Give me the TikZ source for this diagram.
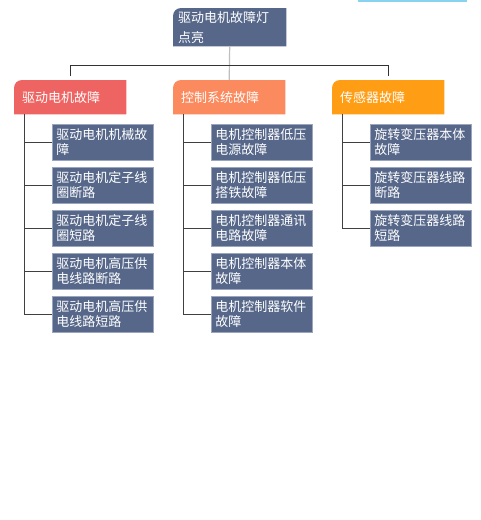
\documentclass[tikz,border=0pt]{standalone}
\usepackage{fontspec}
\newfontfamily\cjk{Noto Sans CJK SC}
\usetikzlibrary{positioning,backgrounds,calc}
\definecolor{slate}{HTML}{56678A}
\definecolor{slateedge}{HTML}{9AA6BE}
\definecolor{drivered}{HTML}{EE6462}
\definecolor{ctrlorange}{HTML}{FB8A5E}
\definecolor{sensorgold}{HTML}{FF9D14}
\definecolor{skyline}{HTML}{87D3F1}

\begin{document}
\begin{tikzpicture}[x=1pt,y=-1pt,
  rootbox/.style={anchor=north west,minimum width=113pt,minimum height=38pt,
    text width=103pt,inner xsep=5pt,inner ysep=0pt,align=left,text=white,
    font=\cjk\fontsize{13}{20}\selectfont},
  catbox/.style={anchor=north west,minimum width=112pt,minimum height=34pt,
    text width=96pt,inner xsep=8pt,inner ysep=0pt,align=left,text=white,
    font=\cjk\fontsize{13}{16}\selectfont},
  leafbox/.style={anchor=north west,draw=slateedge,line width=0.8pt,fill=slate,
    minimum width=101pt,minimum height=36pt,text width=93pt,inner xsep=4pt,
    inner ysep=0pt,align=left,text=white,font=\cjk\fontsize{13}{15}\selectfont},
  branch/.style={draw=black!75,line width=0.9pt},
  bus/.style={draw=black!80,line width=0.9pt},
  stem/.style={draw=black!25,line width=1.2pt}]

\useasboundingbox (0,0) rectangle (480,520);
\draw[skyline,line width=1.6pt] (358,0.8) -- (467,0.8);

% root and the three groups
\node[rootbox] (root) at (173,8) {驱动电机故障灯\\点亮};
\node[catbox] (c1) at (14,80) {驱动电机故障};
\node[catbox] (c2) at (173,80) {控制系统故障};
\node[catbox] (c3) at (332,80) {传感器故障};

\coordinate (hub) at ($(root.south)+(0,19)$);
\draw[stem] (root.south) -- (c2.north);
\draw[bus] ([yshift=4pt]c1.north) |- (hub) -| ([yshift=4pt]c3.north);

% leaves
\foreach \t [count=\i] in {驱动电机机械故\\障,驱动电机定子线\\圈断路,驱动电机定子线\\圈短路,
    驱动电机高压供\\电线路断路,驱动电机高压供\\电线路短路}{
  \node[leafbox] (d\i) at (52,{124+43*(\i-1)}) {\t};
  \draw[branch] ([xshift=10pt]c1.south west) |- (d\i.west);
}
\foreach \t [count=\i] in {电机控制器低压\\电源故障,电机控制器低压\\搭铁故障,电机控制器通讯\\电路故障,
    电机控制器本体\\故障,电机控制器软件\\故障}{
  \node[leafbox] (k\i) at (211,{124+43*(\i-1)}) {\t};
  \draw[branch] ([xshift=10pt]c2.south west) |- (k\i.west);
}
\foreach \t [count=\i] in {旋转变压器本体\\故障,旋转变压器线路\\断路,旋转变压器线路\\短路}{
  \node[leafbox] (s\i) at (370,{124+43*(\i-1)}) {\t};
  \draw[branch] ([xshift=10pt]c3.south west) |- (s\i.west);
}

\begin{scope}[on background layer]
\fill[white] (0,0) rectangle (480,520);
\foreach \n/\c in {root/slate,c1/drivered,c2/ctrlorange,c3/sensorgold}
  \fill[\c] (\n.north east) -- (\n.south east) -- (\n.south west)
    [rounded corners=8pt] -- (\n.north west) [sharp corners] -- cycle;
\end{scope}
\end{tikzpicture}
\end{document}
